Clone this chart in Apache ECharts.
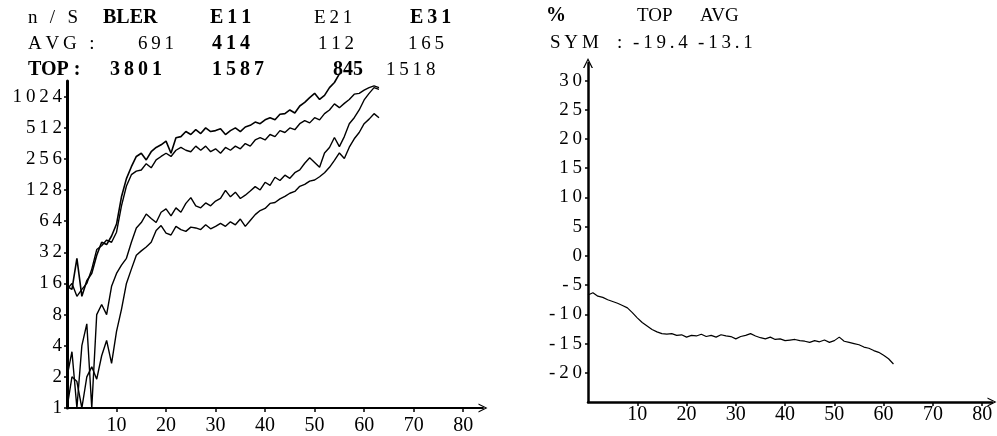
<!DOCTYPE html>
<html>
<head>
<meta charset="UTF-8">
<title>BLER / SYM</title>
<script src="https://cdn.jsdelivr.net/npm/echarts@6/dist/echarts.min.js"></script>
<style>
html, body { margin: 0; padding: 0; background: #fff; }
#main { width: 997px; height: 436px; }
</style>
</head>
<body>
<div id="main"></div>
<script type="text/javascript">
// left panel: n/S curves on a log2 axis
var xs = [0,1,2,3,4,5,6,7,8,9,10,11,12,13,14,15,16,17,18,19,20,21,22,23,24,25,26,27,28,29,30,31,
          32,33,34,35,36,37,38,39,40,41,42,43,44,45,46,47,48,49,50,51,52,53,54,55,56,57,58,59,60,61,62,63];
var bler = [15,14,28,12,17,20,30,40,38,46, 60,110,165,215,270,290,250,300,330,350,
            380,290,410,420,470,440,490,450,510,470, 480,500,440,480,510,470,520,540,580,560,
            610,640,610,690,700,760,710,830,900,1000, 1100,960,1050,1250,1400,1700];
var e11 = [14,16,12,14,16,22,34,37,42,40, 50,90,140,180,195,200,230,210,250,270,
           290,270,310,330,310,300,340,310,340,300, 320,290,330,310,340,320,360,340,390,410,
           390,440,420,480,460,510,490,560,600,570, 640,610,700,760,870,800,880,960,1080,1100,
           1180,1250,1300,1250];
var e31 = [2,3.5,1,4,6.5,1,8,10,8,15, 20,24,28,40,55,62,75,68,62,78,
           84,72,86,78,95,108,90,86,96,90, 100,106,127,110,122,106,114,125,138,128,
           152,142,170,158,178,166,188,200,232,262, 236,212,292,330,412,336,420,560,640,760,
           950,1100,1250,1200];
var e21 = [1,2,1.8,1,2,2.5,1.9,3.2,4.5,2.7, 5.5,9,16,22,30,33,36,40,52,58,
           49,47,57,53,51,56,55,53,59,54, 57,61,57,63,59,67,57,65,74,81,
           85,95,97,105,111,119,124,139,145,156, 160,172,188,212,248,292,258,332,400,460,
           560,620,700,640];

// right panel: SYM curve
var symX = [0,1,2,3,4,5,6,7,8,9,10,11,12,13,14,15,16,17,18,19,20,21,22,23,24,25,26,27,28,29,30,31,
            32,33,34,35,36,37,38,39,40,41,42,43,44,45,46,47,48,49,50,51,52,53,54,55,56,57,58,59,60,61,62];
var sym = [-6.7,-6.3,-6.9,-7.1,-7.5,-7.8,-8.1,-8.5,-8.9,-9.7, -10.6,-11.4,-12.0,-12.6,-13.0,-13.3,-13.4,-13.3,-13.6,-13.5,
           -13.9,-13.6,-13.7,-13.4,-13.8,-13.6,-13.9,-13.5,-13.7,-13.8, -14.2,-13.8,-13.6,-13.3,-13.7,-14.0,-14.2,-13.9,-14.3,-14.2,
           -14.5,-14.4,-14.3,-14.5,-14.6,-14.8,-14.5,-14.7,-14.4,-14.8, -14.5,-13.9,-14.6,-14.8,-15.0,-15.2,-15.6,-15.8,-16.2,-16.5,
           -17.0,-17.6,-18.5];

// tick labels
var logTicks = [1,2,4,8,16,32,64,128,256,512,1024];
var xTicks = [10,20,30,40,50,60,70,80];
var symTicks = [-20,-15,-10,-5,0,5,10,15,20,25,30];

// header tables: x, y, text, bold, spaced
var headLeft = [
    [28, 18, 'n / S', 0, 1], [103, 18, 'BLER', 1, 0], [210, 18, 'E11', 1, 1], [314, 18, 'E21', 0, 1], [410, 18, 'E31', 1, 1],
    [28, 44, 'AVG :', 0, 1], [138, 44, '691', 0, 1], [212, 44, '414', 1, 1], [318, 44, '112', 0, 1], [408, 44, '165', 0, 1],
    [28, 70, 'TOP :', 1, 0], [110, 70, '3801', 1, 1], [212, 70, '1587', 1, 1], [333, 70, '845', 1, 0], [386, 70, '1518', 0, 1]
];
var headRight = [
    [546, 16, '%', 1, 0], [637, 16, 'TOP', 0, 0], [700, 16, 'AVG', 0, 0],
    [550, 43, 'SYM', 0, 1], [617, 43, ':', 0, 0], [633, 43, '-19.4', 0, 1], [698, 43, '-13.1', 0, 1]
];

function sp(s) { return s.split('').join('\u2009'); }
function pairs(x, y) { return y.map(function (v, i) { return [x[i], v]; }); }

var serif = '"Liberation Serif", "DejaVu Serif", serif';
var arrow = 'path://M0,10 L5,0 L10,10 L8.6,10 L5,2.6 L1.4,10 Z';

var graphics = headLeft.concat(headRight).map(function (h) {
    return {
        type: 'text', x: h[0], y: h[1],
        style: {
            text: h[4] ? sp(h[2]) : h[2],
            font: (h[3] ? 'bold 20px ' : '19px ') + serif,
            fill: '#000', align: 'left', verticalAlign: 'middle'
        }
    };
});

function lineSeries(name, data, xi, w, clip) {
    return {
        name: name, type: 'line', xAxisIndex: xi, yAxisIndex: xi,
        data: data, showSymbol: false, symbol: 'none', clip: clip,
        lineStyle: { color: '#000', width: w }
    };
}

var myChart = echarts.init(document.getElementById('main'));
var option = {
    animation: false,
    backgroundColor: '#fff',
    grid: [
        { left: 67, top: 81, width: 416, height: 329 },
        { left: 588, top: 63, width: 404, height: 339 }
    ],
    xAxis: [
        {
            gridIndex: 0, type: 'value', min: 0, max: 84,
            axisLine: { onZero: false, symbol: ['none', arrow], symbolSize: [9, 12], lineStyle: { color: '#000', width: 2 } },
            axisTick: { customValues: xTicks, length: 4, lineStyle: { color: '#000', width: 1.5 } },
            axisLabel: { customValues: xTicks, color: '#000', fontFamily: serif, fontSize: 20, margin: 8 },
            splitLine: { show: false }
        },
        {
            gridIndex: 1, type: 'value', min: 0, max: 82,
            axisLine: { onZero: false, symbol: ['none', arrow], symbolSize: [9, 12], lineStyle: { color: '#000', width: 2.5 } },
            axisTick: { customValues: xTicks, length: 4, lineStyle: { color: '#000', width: 1.5 } },
            axisLabel: { customValues: xTicks, color: '#000', fontFamily: serif, fontSize: 20, margin: 3 },
            splitLine: { show: false }
        }
    ],
    yAxis: [
        {
            gridIndex: 0, type: 'log', logBase: 2, min: 1, max: 1448,
            axisLine: { show: true, onZero: false, lineStyle: { color: '#000', width: 3 } },
            axisTick: { show: true, customValues: logTicks, length: 3, lineStyle: { color: '#000', width: 1.5 } },
            axisLabel: {
                customValues: logTicks, color: '#000', fontFamily: serif, fontSize: 19, margin: 5,
                formatter: function (v) { return sp(String(Math.round(v))); }
            },
            splitLine: { show: false }
        },
        {
            gridIndex: 1, type: 'value', min: -25, max: 33,
            axisLine: { show: true, onZero: false, symbol: ['none', arrow], symbolSize: [10, 13], lineStyle: { color: '#000', width: 2.5 } },
            axisTick: { show: true, customValues: symTicks, length: 3, lineStyle: { color: '#000', width: 1.5 } },
            axisLabel: {
                customValues: symTicks, color: '#000', fontFamily: serif, fontSize: 19, margin: 6,
                formatter: function (v) { return sp(String(v)); }
            },
            splitLine: { show: false }
        }
    ],
    graphic: graphics,
    series: [
        lineSeries('BLER', pairs(xs, bler), 0, 1.6, false),
        lineSeries('E11', pairs(xs, e11), 0, 1.4, true),
        lineSeries('E21', pairs(xs, e21), 0, 1.4, true),
        lineSeries('E31', pairs(xs, e31), 0, 1.4, true),
        lineSeries('SYM', pairs(symX, sym), 1, 1.2, true)
    ]
};
myChart.setOption(option);
</script>
</body>
</html>
